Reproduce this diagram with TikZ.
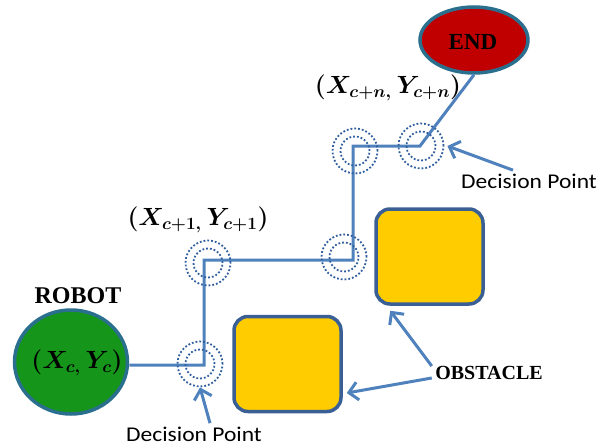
\documentclass[tikz,border=0pt]{standalone}
\usepackage{fontspec}
\setmainfont{Liberation Serif}
\newfontfamily\calfont{Carlito}
\usepackage{amsmath}
\usetikzlibrary{arrows.meta,positioning,shapes.geometric}
\definecolor{pathblue}{HTML}{4F81BD}
\definecolor{dotblue}{HTML}{2F5E9E}
\definecolor{obsborder}{HTML}{3A5F94}
\definecolor{obsyellow}{HTML}{FFCC00}
\definecolor{ringteal}{HTML}{2A6F8E}
\definecolor{robotgreen}{HTML}{15961A}
\definecolor{endred}{HTML}{C00000}
\tikzset{
  route/.style={draw=pathblue,line width=3pt},
  pointer/.style={draw=pathblue,line width=3pt,
    -{Straight Barb[length=9pt,width=18pt,line width=3pt]}},
  dpout/.style={circle,draw=dotblue,dotted,line width=1.8pt,
    minimum size=45pt,inner sep=0pt},
  dpin/.style={dpout,minimum size=29pt},
  obstacle/.style={draw=obsborder,fill=obsyellow,line width=3.5pt,
    rounded corners=14pt,minimum width=107pt,minimum height=95pt},
  goal/.style={ellipse,draw=ringteal,line width=3.5pt,inner sep=0pt},
  dplabel/.style={font=\calfont\fontsize{21}{24}\selectfont,xscale=1.12},
  tag/.style={font=\bfseries\fontsize{20}{24}\selectfont},
  coordlabel/.style={font=\boldmath\fontsize{23}{27}\selectfont}
}
\begin{document}
\begin{tikzpicture}[x=1pt,y=-1pt]
  \useasboundingbox (0,0) rectangle (600,447);

  % Start and goal
  \node[goal,fill=robotgreen,minimum width=113pt,minimum height=104pt] (robot) at (71,362) {};
  \node[coordlabel] (robotxy) at (77,363) {$(X_{c,}\,Y_{c})$};
  \node[tag,font=\bfseries\fontsize{24}{28}\selectfont] (robottag) at (78,296) {ROBOT};
  \node[goal,fill=endred,minimum width=108pt,minimum height=66pt] (end) at (474,40) {};
  \node[tag,font=\bfseries\fontsize{23}{27}\selectfont] (endtag) at (473,42) {END};

  % Obstacles
  \node[obstacle] (obs1) at (429.5,256.5) {};
  \node[obstacle] (obs2) at (287.5,364) {};
  \node[tag] (obstag) at (489,373) {OBSTACLE};

  % Corners of the route
  \coordinate (c1) at (204,365);
  \coordinate (c2) at (204,260);
  \coordinate (c3) at (353,260);
  \coordinate (c4) at (353,146);
  \coordinate (c5) at (420,146);

  % Route
  \draw[route] (robot.east |- c1) -- (c1) -- (c2) -- (c3) -- (c4) -- (c5) -- (end.south);

  % Decision points (double dotted rings)
  \foreach \n/\x/\y in {1/200/364, 2/208/263, 3/344/257, 4/355/151, 5/421/146}{
    \node[dpout] (d\n) at (\x,\y) {};
    \node[dpin] (d\n i) at (\x,\y) {};
  }

  % Coordinate labels
  \node[coordlabel] (lblone) at (198,220) {$(X_{c+1,}\,Y_{c+1})$};
  \node[coordlabel] (lbln) at (388,88) {$(X_{c+n,}\,Y_{c+n})$};

  % Decision point labels and pointers
  \node[dplabel] (dpbot) at (194,434) {Decision Point};
  \node[dplabel] (dptop) at (529,181) {Decision Point};
  \draw[pointer] ([xshift=16pt]dpbot.north) -- (d1.south);
  \draw[pointer] ([xshift=-16pt]dptop.north) -- ([xshift=3pt]d5.east);

  % Obstacle pointers
  \draw[pointer] ([yshift=7pt]obstag.west) -- ([xshift=16pt,yshift=-5pt]obs1.south west);
  \draw[pointer] ([yshift=-5pt]obstag.west) -- ([xshift=4pt,yshift=-29pt]obs2.east);
\end{tikzpicture}
\end{document}
